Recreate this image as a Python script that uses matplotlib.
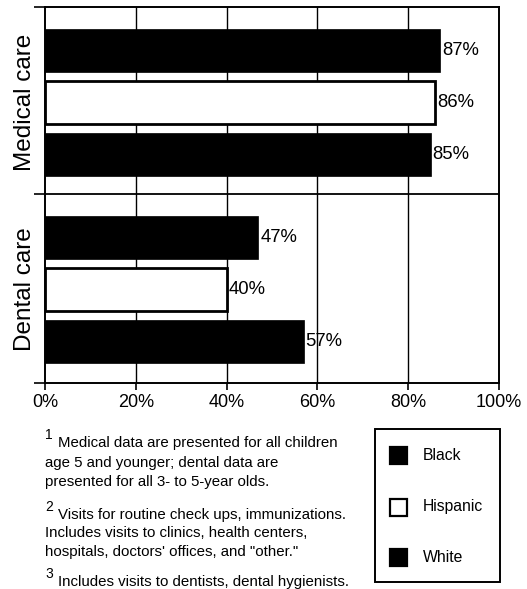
import matplotlib
matplotlib.use("Agg")
import matplotlib.pyplot as plt
from matplotlib.patches import Rectangle

plt.rcParams['font.family'] = ['Liberation Sans', 'DejaVu Sans']

groups = ["Medical care", "Dental care"]
series = ["Black", "Hispanic", "White"]
medical = [87, 86, 85]
dental = [47, 40, 57]
xticks = [0, 20, 40, 60, 80, 100]
xticklabels = ["0%", "20%", "40%", "60%", "80%", "100%"]
footnotes = [
    ("1", ["Medical data are presented for all children",
           "age 5 and younger; dental data are",
           "presented for all 3- to 5-year olds."]),
    ("2", ["Visits for routine check ups, immunizations.",
           "Includes visits to clinics, health centers,",
           "hospitals, doctors' offices, and \"other.\""]),
    ("3", ["Includes visits to dentists, dental hygienists."]),
]

fills = {"Black": "black", "Hispanic": "white", "White": "black"}

W, H = 527, 589
fig = plt.figure(figsize=(W / 100, H / 100), dpi=100)
L, R, T, B = 45, 499, 7, 383
ax = fig.add_axes([L / W, 1 - B / H, (R - L) / W, (B - T) / H])

group_offsets = [0.0, 3.6]
bar_h = 0.83
data = [medical, dental]
for off, vals in zip(group_offsets, data):
    for i, (name, v) in enumerate(zip(series, vals)):
        y = off + i
        ax.barh(y, v, height=bar_h, color=fills[name], edgecolor="black",
                linewidth=2.0 if name == "Hispanic" else 0.5, zorder=3)
        ax.text(v + 0.4, y, f"{v}%", va="center", ha="left", fontsize=13.3, zorder=4)

ax.set_xlim(0, 100)
ylo, yhi = -0.83, 6.4
sep = 2.77
ax.set_ylim(yhi, ylo)
ax.set_xticks(xticks)
ax.set_xticklabels(xticklabels, fontsize=13)
ax.set_yticks([ylo, sep, yhi])
ax.set_yticklabels([])
ax.tick_params(axis="x", length=5, width=1.2, pad=3, direction="out")
ax.tick_params(axis="y", length=8, width=1.2, direction="out")
for x in xticks[1:-1]:
    ax.axvline(x, color="black", lw=1.0, zorder=1)
ax.axhline(sep, color="black", lw=1.3, zorder=1)
for s in ax.spines.values():
    s.set_linewidth(1.4)

for off, g in zip(group_offsets, groups):
    ax.text(-20 / (R - L), off + 1, g, transform=ax.get_yaxis_transform(),
            rotation=90, ha="center", va="center", fontsize=17.5)

# footnotes
fy = [443, 463, 482, 515, 533, 552, 582]
k = 0
for sup, lines in footnotes:
    for j, line in enumerate(lines):
        y = 1 - fy[k] / H
        if j == 0:
            fig.text(45 / W, 1 - (fy[k] - 8) / H, sup, fontsize=10, ha="left", va="center")
            fig.text(58 / W, y, line, fontsize=10.8, ha="left", va="center")
        else:
            fig.text(45 / W, y, line, fontsize=10.8, ha="left", va="center")
        k += 1

# legend box
fig.patches.append(Rectangle((375 / W, 1 - 582 / H), 125 / W, 153 / H,
                             transform=fig.transFigure, fill=False,
                             edgecolor="black", linewidth=1.4))
ly = [455, 507, 557]
for name, yy in zip(series, ly):
    fig.patches.append(Rectangle((390 / W, 1 - (yy + 8.5) / H), 17 / W, 17 / H,
                                 transform=fig.transFigure, facecolor=fills[name],
                                 edgecolor="black", linewidth=1.6))
    fig.text(423 / W, 1 - yy / H, name, fontsize=11.3, ha="left", va="center")

fig.savefig("out.png", dpi=100)
